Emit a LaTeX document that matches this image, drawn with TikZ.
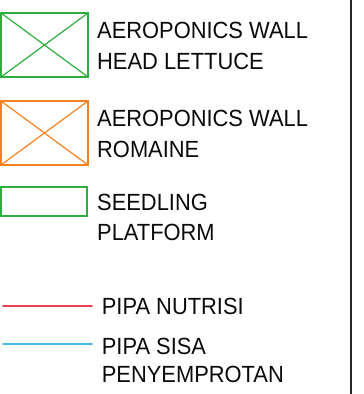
\documentclass[tikz,border=0pt]{standalone}
\usepackage{fontspec}
\setmainfont{Liberation Sans}[FakeStretch=0.935]
\usepackage{tikz}
\usetikzlibrary{positioning, calc}

\begin{document}
\begin{tikzpicture}[
    x=1pt, y=-1pt,
    every path/.style={line cap=round},
]
% ── Colours ──
\definecolor{wallgreen}{HTML}{2EAE3E}
\definecolor{wallorange}{HTML}{F5821F}
\definecolor{pipered}{HTML}{E8424F}
\definecolor{pipeblue}{HTML}{48B9EA}
\definecolor{textc}{HTML}{0A0A0A}

% ── Styles ──
\tikzset{
    legend-box/.style={
        draw, rectangle, line width=1.5pt,
        minimum width=87pt, minimum height=64pt,
        inner sep=0pt, outer sep=0pt,
    },
    head-box/.style={legend-box, draw=wallgreen},
    romaine-box/.style={legend-box, draw=wallorange},
    seed-box/.style={legend-box, draw=wallgreen, minimum width=86pt, minimum height=29pt},
    cross/.style={line width=1.2pt},
    legend-text/.style={
        anchor=base west, inner sep=0pt, align=left, text=textc,
        font=\fontsize{23.4}{31}\selectfont,
    },
    pipe/.style={line width=1.6pt},
}

\useasboundingbox (0,0) rectangle (364,394);

% ── Frame line on the right ──
\coordinate (ftop) at (351,0);
\coordinate (fbot) at (351,394);
\draw[line width=2pt, draw=black!85] (ftop) -- (fbot);

% ── Aeroponics wall, head lettuce ──
\node[head-box] (head) at (44.5,45) {};
\draw[cross, wallgreen] (head.north west) -- (head.south east);
\draw[cross, wallgreen] (head.south west) -- (head.north east);
\node[legend-text] (headtxt) at (97,69)
    {AEROPONICS WALL\\HEAD LETTUCE};

% ── Aeroponics wall, romaine ──
\node[romaine-box] (rom) at (44.5,133) {};
\draw[cross, wallorange] (rom.north west) -- (rom.south east);
\draw[cross, wallorange] (rom.south west) -- (rom.north east);
\node[legend-text, font=\fontsize{23.4}{30.5}\selectfont] (romtxt) at (97,157)
    {AEROPONICS WALL\\ROMAINE};

% ── Seedling platform ──
\node[seed-box] (seed) at (44,201.5) {};
\node[legend-text, font=\fontsize{23.4}{30.7}\selectfont] (seedtxt) at (97,240.7)
    {SEEDLING\\PLATFORM};

% ── Pipes ──
\coordinate (nutA) at (3,305.7);
\coordinate (nutB) at (92,305.7);
\draw[pipe, pipered] (nutA) -- (nutB);
\node[legend-text] (nuttxt) at (101.7,314) {PIPA NUTRISI};

\coordinate (sisaA) at (3,343.7);
\coordinate (sisaB) at (92,343.7);
\draw[pipe, pipeblue] (sisaA) -- (sisaB);
\node[legend-text, font=\fontsize{23.4}{28.4}\selectfont] (sisatxt) at (101.7,382.7)
    {PIPA SISA\\PENYEMPROTAN};

\end{tikzpicture}
\end{document}
